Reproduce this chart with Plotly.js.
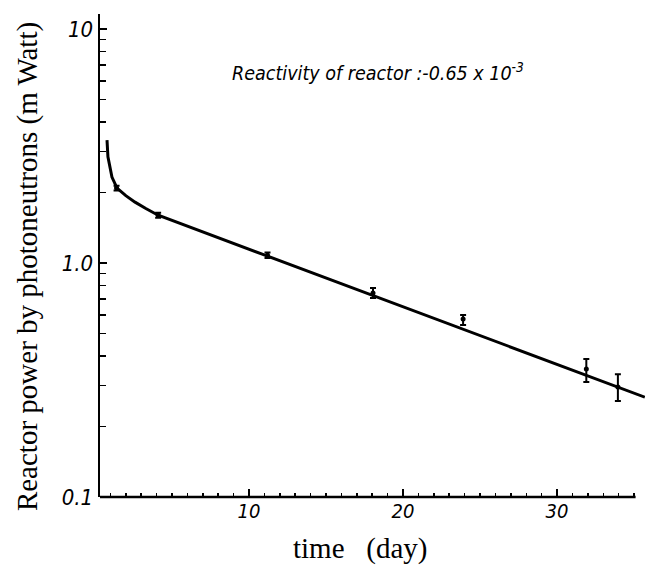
<!DOCTYPE html>
<html>
<head>
<meta charset="utf-8">
<script src="https://cdn.plot.ly/plotly-3.0.1.min.js"></script>
<style>html,body{margin:0;padding:0;background:#fff;}#chart{width:647px;height:565px;}</style>
</head>
<body>
<div id="chart"></div>
<script>
// Measured data (time in days, reactor power in mW)
var pointDays = [1.4, 4.1, 11.2, 18.05, 23.9, 31.9, 33.95];
var pointPower = [2.09, 1.60, 1.08, 0.745, 0.577, 0.352, 0.295];
var errPlus = [0.05, 0.04, 0.03, 0.037, 0.023, 0.037, 0.040];
var errMinus = [0.05, 0.04, 0.03, 0.036, 0.034, 0.042, 0.038];

// Drawn decay curve
var curveDays = [0.78, 0.84, 1.10, 1.43, 2.0, 2.6, 3.3, 4.1, 35.7];
var curvePower = [3.35, 2.84, 2.33, 2.09, 1.94, 1.82, 1.71, 1.60, 0.267];

var yTickVals = [0.1, 1, 10];
var yTickText = ["0.1", "1.0", "10"];
var yMinorVals = [0.2,0.3,0.4,0.5,0.6,0.7,0.8,0.9,2,3,4,5,6,7,8,9];
var xTickVals = [10, 20, 30];
var xTickText = ["10", "20", "30"];

var fam = "DejaVu Sans Condensed, DejaVu Sans, sans-serif";

var traces = [
  {x: curveDays, y: curvePower, mode: "lines", type: "scatter",
   line: {color: "#000", width: 3}, hoverinfo: "skip"},
  {x: pointDays, y: pointPower, mode: "markers", type: "scatter",
   marker: {color: "#000", size: 5},
   error_y: {type: "data", symmetric: false, array: errPlus, arrayminus: errMinus,
             color: "#000", thickness: 2, width: 3}}
];

var layout = {
  width: 647, height: 565,
  margin: {l: 100, r: 2, t: 14, b: 68},
  paper_bgcolor: "#fff", plot_bgcolor: "#fff",
  showlegend: false,
  xaxis: {
    range: [0.325, 35.71], showgrid: false, zeroline: false, showline: false,
    tickmode: "array", tickvals: xTickVals, ticktext: xTickText,
    ticks: "inside", ticklen: 8, tickwidth: 1.5, tickcolor: "#000",
    tickfont: {family: fam, size: 20, style: "italic", color: "#000"},
    minor: {tick0: 0, dtick: 1, ticks: "inside", ticklen: 4, tickwidth: 1.5, tickcolor: "#000", showgrid: false}
  },
  yaxis: {
    type: "log", range: [-1, 1.064], showgrid: false, zeroline: false,
    showline: true, linecolor: "#000", linewidth: 2.5,
    tickmode: "array", tickvals: yTickVals, ticktext: yTickText,
    ticks: "inside", ticklen: 7, tickwidth: 1.5, tickcolor: "#000",
    tickfont: {family: fam, size: 22, style: "italic", color: "#000"},
    minor: {tickvals: yMinorVals, ticks: "inside", ticklen: 6, tickwidth: 1.5, tickcolor: "#000", showgrid: false}
  },
  shapes: [
    {type: "line", xref: "x", yref: "paper", x0: 0.325, x1: 35.1, y0: 0, y1: 0,
     line: {color: "#000", width: 2.5}}
  ],
  annotations: [
    {xref: "paper", yref: "paper", x: 0.2385, y: 0.88, xanchor: "left", yanchor: "middle",
     showarrow: false,
     text: "Reactivity of reactor :-0.65 x 10<sup>-3</sup>",
     font: {family: fam, size: 19.5, style: "italic", color: "#000"}},
    {xref: "paper", yref: "paper", x: -0.134, y: 0.478, xanchor: "center", yanchor: "middle",
     showarrow: false, textangle: -90,
     text: "Reactor power by photoneutrons (m Watt)",
     font: {family: "Liberation Serif, DejaVu Serif, serif", size: 29, color: "#000"}},
    {xref: "paper", yref: "paper", x: 0.477, y: -0.1056, xanchor: "center", yanchor: "middle",
     showarrow: false,
     text: "time&nbsp;&nbsp;&nbsp;(day)",
     font: {family: "Liberation Serif, DejaVu Serif, serif", size: 29, color: "#000"}}
  ]
};

Plotly.newPlot("chart", traces, layout, {displayModeBar: false, staticPlot: true});
</script>
</body>
</html>
